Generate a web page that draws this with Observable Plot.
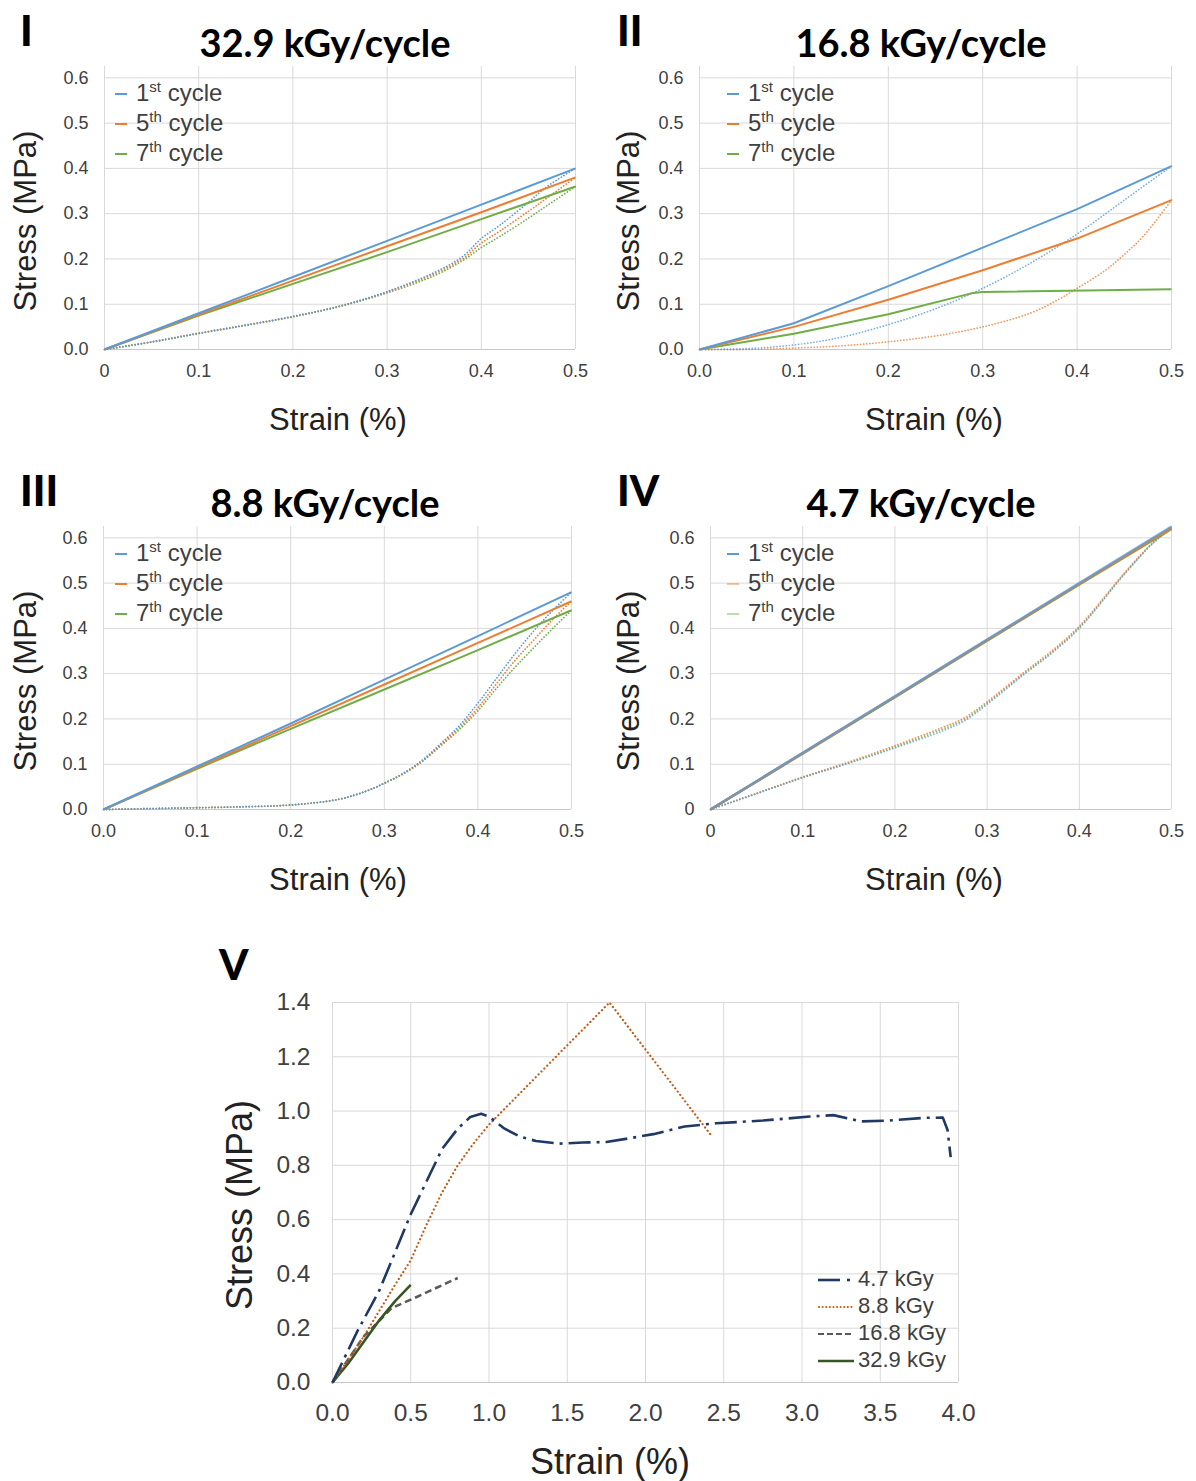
<!DOCTYPE html>
<html><head><meta charset="utf-8">
<script src="https://cdn.jsdelivr.net/npm/d3@7"></script>
<script src="https://cdn.jsdelivr.net/npm/@observablehq/plot@0.6"></script>
<style>
body{margin:0;background:#fff;}
#fig{position:relative;width:1196px;height:1481px;background:#fff;font-family:"Liberation Sans",Arial,sans-serif;color:#404040;overflow:hidden}
.abs{position:absolute;white-space:nowrap}
.roman{font-family:Lato,"Liberation Sans",sans-serif;font-weight:900;font-size:42px;color:#000;line-height:1}
.title{font-family:Lato,"Liberation Sans",sans-serif;font-weight:700;font-size:38px;color:#000;transform:translate(-50%,-50%)}
.xt{font-size:31px;color:#222;transform:translate(-50%,-50%)}
.yt{font-size:31px;color:#222;transform:translate(-50%,-50%) rotate(-90deg)}
.leg{font-size:24px;line-height:30px;color:#404040}
.leg sup{font-size:15px;vertical-align:9px;line-height:0}
.sw{display:inline-block;width:12px;height:2px;vertical-align:middle;margin-right:9px;position:relative;top:-1px}
.legV{font-size:22px;line-height:27px;color:#404040}
.legV svg{vertical-align:middle;margin-right:4px}
</style>
</head><body>
<div id="fig"></div>
<script>
// ---------- Data ----------
const cycleLabels = ["1st", "5th", "7th"];
const cycleColors = ["#5b9bd5", "#ed7d31", "#70ad47"];
const panelTitles = ["32.9 kGy/cycle", "16.8 kGy/cycle", "8.8 kGy/cycle", "4.7 kGy/cycle"];
const romanLabels = ["I", "II", "III", "IV", "V"];
const xTicksSmall = [0, 0.1, 0.2, 0.3, 0.4, 0.5];
const yTicksSmall = [0, 0.1, 0.2, 0.3, 0.4, 0.5, 0.6];
const xTicksV = [0, 0.5, 1, 1.5, 2, 2.5, 3, 3.5, 4];
const yTicksV = [0, 0.2, 0.4, 0.6, 0.8, 1.0, 1.2, 1.4];

// Panel I — 32.9 kGy/cycle  [strain %, stress MPa]
const I_load_1st = [[0,0],[0.1,0.08],[0.2,0.16],[0.3,0.24],[0.4,0.32],[0.5,0.40]];
const I_load_5th = [[0,0],[0.1,0.077],[0.2,0.152],[0.3,0.228],[0.4,0.303],[0.5,0.38]];
const I_load_7th = [[0,0],[0.1,0.075],[0.2,0.145],[0.3,0.215],[0.4,0.288],[0.5,0.36]];
const I_unload_1st = [[0,0],[0.05,0.017],[0.1,0.036],[0.15,0.054],[0.2,0.073],[0.25,0.096],[0.3,0.128],[0.35,0.17],[0.38,0.205],[0.4,0.245],[0.42,0.275],[0.45,0.325],[0.47,0.36],[0.5,0.40]];
const I_unload_5th = [[0,0],[0.05,0.017],[0.1,0.036],[0.15,0.054],[0.2,0.073],[0.25,0.096],[0.3,0.127],[0.35,0.167],[0.38,0.2],[0.4,0.235],[0.42,0.262],[0.45,0.305],[0.47,0.335],[0.5,0.38]];
const I_unload_7th = [[0,0],[0.05,0.016],[0.1,0.035],[0.15,0.053],[0.2,0.072],[0.25,0.095],[0.3,0.125],[0.35,0.163],[0.38,0.196],[0.4,0.225],[0.42,0.25],[0.45,0.29],[0.47,0.318],[0.5,0.36]];

// Panel II — 16.8 kGy/cycle
const II_load_1st = [[0,0],[0.1,0.058],[0.2,0.14],[0.3,0.225],[0.4,0.31],[0.5,0.405]];
const II_load_5th = [[0,0],[0.1,0.05],[0.2,0.11],[0.3,0.175],[0.4,0.245],[0.5,0.33]];
const II_load_7th = [[0,0],[0.1,0.035],[0.2,0.078],[0.29,0.125],[0.3,0.127],[0.5,0.133]];
const II_unload_1st = [[0,0],[0.05,0.002],[0.1,0.01],[0.15,0.027],[0.2,0.055],[0.25,0.09],[0.3,0.135],[0.35,0.19],[0.4,0.255],[0.45,0.33],[0.5,0.405]];
const II_unload_5th = [[0,0],[0.05,0],[0.1,0.003],[0.15,0.008],[0.2,0.017],[0.25,0.03],[0.3,0.05],[0.35,0.08],[0.38,0.11],[0.4,0.135],[0.43,0.175],[0.45,0.21],[0.47,0.25],[0.5,0.33]];

// Panel III — 8.8 kGy/cycle
const III_load_1st = [[0,0],[0.1,0.095],[0.2,0.19],[0.3,0.287],[0.4,0.383],[0.5,0.48]];
const III_load_5th = [[0,0],[0.1,0.092],[0.2,0.184],[0.3,0.276],[0.4,0.368],[0.5,0.46]];
const III_load_7th = [[0,0],[0.1,0.09],[0.2,0.178],[0.3,0.265],[0.4,0.352],[0.5,0.44]];
const III_unload_1st = [[0,0],[0.05,0.002],[0.1,0.004],[0.15,0.006],[0.2,0.01],[0.25,0.022],[0.28,0.04],[0.3,0.058],[0.32,0.08],[0.34,0.108],[0.36,0.145],[0.38,0.185],[0.4,0.235],[0.42,0.29],[0.44,0.345],[0.46,0.395],[0.48,0.44],[0.5,0.48]];
const III_unload_5th = [[0,0],[0.05,0.002],[0.1,0.004],[0.15,0.006],[0.2,0.01],[0.25,0.022],[0.28,0.04],[0.3,0.058],[0.32,0.079],[0.34,0.106],[0.36,0.142],[0.38,0.18],[0.4,0.225],[0.42,0.278],[0.44,0.33],[0.46,0.375],[0.48,0.42],[0.5,0.46]];
const III_unload_7th = [[0,0],[0.05,0.002],[0.1,0.004],[0.15,0.006],[0.2,0.01],[0.25,0.022],[0.28,0.04],[0.3,0.058],[0.32,0.078],[0.34,0.105],[0.36,0.14],[0.38,0.176],[0.4,0.218],[0.42,0.268],[0.44,0.315],[0.46,0.358],[0.48,0.4],[0.5,0.44]];

// Panel IV — 4.7 kGy/cycle
const IV_load_1st = [[0,0],[0.1,0.125],[0.2,0.25],[0.3,0.375],[0.4,0.5],[0.5,0.625]];
const IV_load_5th = [[0,0],[0.1,0.124],[0.2,0.249],[0.3,0.374],[0.4,0.498],[0.5,0.622]];
const IV_load_7th = [[0,0],[0.1,0.124],[0.2,0.248],[0.3,0.373],[0.4,0.497],[0.5,0.62]];
const IV_unload_1st = [[0,0],[0.05,0.035],[0.1,0.07],[0.15,0.102],[0.2,0.136],[0.25,0.172],[0.275,0.195],[0.3,0.232],[0.34,0.298],[0.37,0.345],[0.4,0.4],[0.45,0.522],[0.48,0.588],[0.5,0.622]];
const IV_unload_5th = [[0,0],[0.05,0.036],[0.1,0.072],[0.15,0.105],[0.2,0.141],[0.25,0.18],[0.275,0.202],[0.3,0.238],[0.34,0.303],[0.37,0.35],[0.4,0.405],[0.45,0.525],[0.48,0.59],[0.5,0.622]];
const IV_unload_7th = [[0,0],[0.05,0.035],[0.1,0.071],[0.15,0.103],[0.2,0.138],[0.25,0.176],[0.275,0.198],[0.3,0.235],[0.34,0.3],[0.37,0.347],[0.4,0.402],[0.45,0.523],[0.48,0.589],[0.5,0.62]];

// Panel V — monotonic tests
const doseLabels = ["4.7 kGy", "8.8 kGy", "16.8 kGy", "32.9 kGy"];
const doseColors = ["#1f3864", "#c55a11", "#595959", "#375623"];
const V_4_7 = [[0,0],[0.16,0.19],[0.3,0.34],[0.5,0.62],[0.7,0.86],[0.8,0.935],[0.88,0.978],[0.95,0.99],[1.0,0.98],[1.1,0.935],[1.2,0.905],[1.3,0.89],[1.45,0.88],[1.6,0.884],[1.75,0.886],[1.9,0.9],[2.05,0.915],[2.25,0.943],[2.45,0.955],[2.75,0.965],[3.05,0.98],[3.2,0.985],[3.38,0.962],[3.55,0.965],[3.78,0.975],[3.9,0.976],[3.93,0.93],[3.95,0.83]];
const V_8_8 = [[0,0],[0.2,0.17],[0.4,0.36],[0.5,0.45],[0.6,0.58],[0.7,0.7],[0.8,0.8],[0.9,0.88],[1.0,0.95],[1.77,1.4],[2.42,0.91]];
const V_16_8 = [[0,0],[0.2,0.17],[0.38,0.275],[0.5,0.305],[0.65,0.345],[0.8,0.385]];
const V_32_9 = [[0,0],[0.1,0.07],[0.2,0.15],[0.3,0.23],[0.4,0.3],[0.5,0.36]];

// ---------- Drawing ----------
const fig = document.getElementById("fig");
const fmt1 = d => d.toFixed(1);
const fmt0 = d => d === 0 ? "0" : d.toFixed(1);

function drawPanel(cfg) {
  const marks = [
    Plot.gridX(cfg.xTicks, {stroke: "#d9d9d9", strokeOpacity: 1}),
    Plot.gridY(cfg.yTicks.slice(1), {stroke: "#d9d9d9", strokeOpacity: 1}),
    Plot.ruleY([0], {stroke: "#c8c8c8"}),
    Plot.axisX({ticks: cfg.xTicks, tickSize: 0, tickPadding: cfg.padX, tickFormat: cfg.xFmt, fontSize: cfg.fs, label: null}),
    Plot.axisY({ticks: cfg.yTicks, tickSize: 0, tickPadding: cfg.padY, tickFormat: cfg.yFmt, fontSize: cfg.fs, label: null}),
    ...cfg.series.map(s => Plot.line(s.data, {
      x: d => d[0], y: d => d[1], stroke: s.color, strokeWidth: s.w,
      strokeDasharray: s.dash, strokeLinecap: s.cap || "butt", strokeOpacity: s.op ?? 1,
      curve: s.curve || "linear"
    }))
  ];
  const svg = Plot.plot({
    width: cfg.width, height: cfg.height,
    marginLeft: cfg.mL, marginRight: cfg.mR, marginTop: cfg.mT, marginBottom: cfg.mB,
    x: {domain: cfg.xDomain}, y: {domain: cfg.yDomain},
    style: {background: "transparent", color: "#404040", fontFamily: "'Liberation Sans', Arial, sans-serif", fontSize: cfg.fs + "px", overflow: "visible"},
    marks
  });
  svg.style.position = "absolute";
  svg.style.left = cfg.left + "px";
  svg.style.top = cfg.top + "px";
  svg.style.maxWidth = "none";
  fig.appendChild(svg);
}

function solid(data, color, w = 2, op = 1) { return {data, color, w, op}; }
function dotted(data, color, op = 1) { return {data, color, w: 1.7, dash: "0.1 3", cap: "round", op, curve: "catmull-rom"}; }

const [cB, cO, cG] = cycleColors;

const panels = [
  {left: 0, top: 0, mL: 104, mR: 23, xFmt: fmt0, yFmt: fmt1,
   series: [dotted(I_unload_7th, cG), dotted(I_unload_5th, cO), dotted(I_unload_1st, cB),
            solid(I_load_7th, cG), solid(I_load_5th, cO), solid(I_load_1st, cB)]},
  {left: 598, top: 0, mL: 101, mR: 25, xFmt: fmt1, yFmt: fmt1,
   series: [dotted(II_unload_5th, cO, 0.8), dotted(II_unload_1st, cB, 0.8),
            solid(II_load_7th, cG), solid(II_load_5th, cO), solid(II_load_1st, cB)]},
  {left: 0, top: 460, mL: 103, mR: 27, xFmt: fmt1, yFmt: fmt1,
   series: [dotted(III_unload_7th, cG), dotted(III_unload_5th, cO), dotted(III_unload_1st, cB),
            solid(III_load_7th, cG), solid(III_load_5th, cO), solid(III_load_1st, cB)]},
  {left: 598, top: 460, mL: 112, mR: 25, xFmt: fmt0, yFmt: fmt0,
   series: [dotted(IV_unload_7th, cG, 0.8), dotted(IV_unload_5th, cO, 0.8), dotted(IV_unload_1st, cB, 0.7),
            solid(IV_load_7th, cG, 2.6), solid(IV_load_5th, cO, 2.6), solid(IV_load_1st, cB, 2.6, 0.8)]}
];

panels.forEach(p => drawPanel({
  ...p, width: 598, height: 400, mT: 66, mB: 51,
  xDomain: [0, 0.5], yDomain: [0, 0.625], xTicks: xTicksSmall, yTicks: yTicksSmall,
  padX: 15, padY: 16, fs: 18
}));

drawPanel({
  left: 0, top: 940, width: 1196, height: 541, mL: 332, mR: 238, mT: 62, mB: 99,
  xDomain: [0, 4], yDomain: [0, 1.4], xTicks: xTicksV, yTicks: yTicksV,
  xFmt: fmt1, yFmt: fmt1, padX: 21, padY: 22, fs: 24.5,
  series: [
    {data: V_16_8, color: doseColors[2], w: 2.5, dash: "7 4"},
    {data: V_32_9, color: doseColors[3], w: 2.6},
    {data: V_8_8, color: doseColors[1], w: 2.2, dash: "0.1 4", cap: "round"},
    {data: V_4_7, color: doseColors[0], w: 2.6, dash: "22 6 3 6"}
  ]
});

// ---------- Text ----------
function addHTML(cls, x, y, html) {
  const d = document.createElement("div");
  d.className = "abs " + cls;
  d.style.left = x + "px"; d.style.top = y + "px";
  d.innerHTML = html;
  fig.appendChild(d);
  return d;
}

const romanPos = [[20, 9], [617, 9], [20, 469], [617, 469], [219, 943]];
romanLabels.forEach((r, i) => addHTML("roman", romanPos[i][0], romanPos[i][1], r));

const titlePos = [[325, 42], [921, 42], [325, 502], [921, 502]];
panelTitles.forEach((t, i) => addHTML("title", titlePos[i][0], titlePos[i][1], t));

const xTitlePos = [[338, 420], [934, 420], [338, 880], [934, 880]];
const yTitlePos = [[26, 221], [629, 221], [26, 681], [629, 681]];
xTitlePos.forEach(p => addHTML("xt", p[0], p[1], "Strain (%)"));
yTitlePos.forEach(p => addHTML("yt", p[0], p[1], "Stress (MPa)"));
addHTML("xt", 610, 1462, "Strain (%)").style.fontSize = "36px";
addHTML("yt", 240, 1205, "Stress (MPa)").style.fontSize = "36px";

const legPos = [[115, 78], [727, 78], [115, 538], [727, 538]];
legPos.forEach((p, pi) => {
  const rows = cycleLabels.map((c, i) => {
    const num = c.slice(0, 1), suf = c.slice(1);
    const op = (pi === 3 && i > 0) ? 0.45 : 1;
    return `<div><span class="sw" style="background:${cycleColors[i]};opacity:${op}"></span>${num}<sup>${suf}</sup> cycle</div>`;
  }).join("");
  addHTML("leg", p[0], p[1], rows);
});

const swatchV = [
  `<svg width="36" height="10"><line x1="0" x2="22" y1="5" y2="5" stroke="${doseColors[0]}" stroke-width="2.6"/><line x1="29" x2="32" y1="5" y2="5" stroke="${doseColors[0]}" stroke-width="2.6"/></svg>`,
  `<svg width="36" height="10"><line x1="1" x2="35" y1="5" y2="5" stroke="${doseColors[1]}" stroke-width="2" stroke-dasharray="0.1 3.5" stroke-linecap="round"/></svg>`,
  `<svg width="36" height="10"><line x1="0" x2="36" y1="5" y2="5" stroke="${doseColors[2]}" stroke-width="2.2" stroke-dasharray="6 3"/></svg>`,
  `<svg width="36" height="10"><line x1="0" x2="36" y1="5" y2="5" stroke="${doseColors[3]}" stroke-width="2.6"/></svg>`
];
addHTML("legV", 818, 1265, doseLabels.map((l, i) => `<div>${swatchV[i]}${l}</div>`).join(""));
</script>
</body></html>
